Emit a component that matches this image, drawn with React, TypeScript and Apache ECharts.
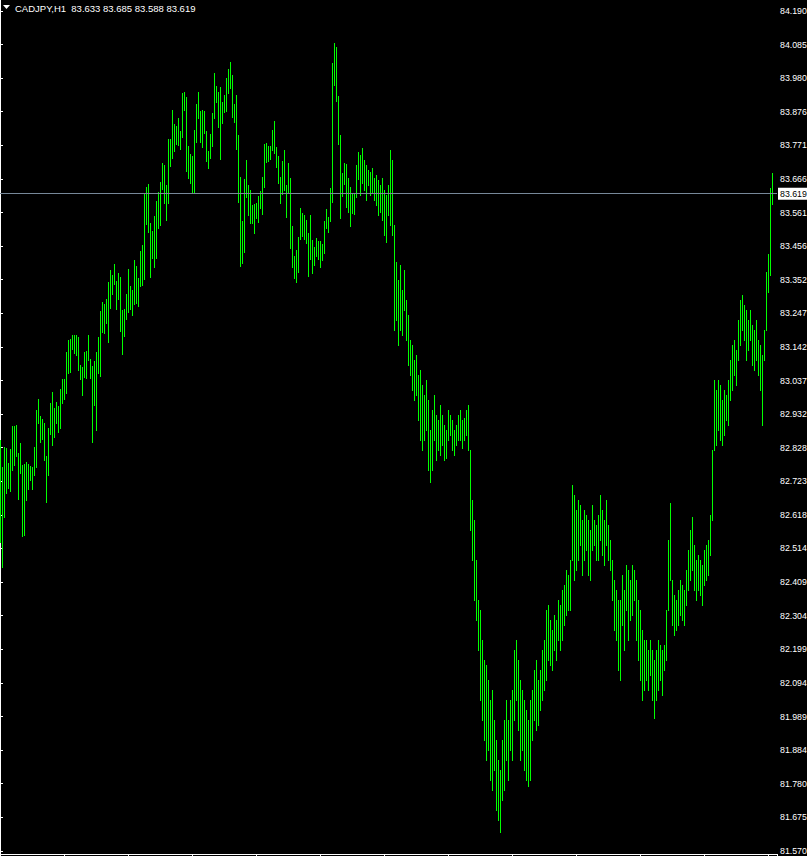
import React, { useEffect, useRef } from 'react';
import * as echarts from 'echarts';

const symbolName = 'CADJPY,H1';
const lastOHLC = [83.633, 83.685, 83.588, 83.619];

const priceTicks = [
  84.19, 84.085, 83.98, 83.876, 83.771, 83.666, 83.561, 83.456, 83.352, 83.247,
  83.142, 83.037, 82.932, 82.828, 82.723, 82.618, 82.514, 82.409, 82.304, 82.199,
  82.094, 81.989, 81.884, 81.78, 81.675, 81.57,
];

const highs = [
  82.851, 82.767, 82.829, 82.826, 82.780, 82.823, 82.895, 82.895, 82.898, 82.811, 82.842, 82.773,
  82.776, 82.783, 82.776, 82.770, 82.767, 82.829, 82.945, 82.979, 82.926, 82.917, 82.904, 82.801,
  82.889, 82.967, 83.001, 82.951, 82.970, 82.957, 83.010, 83.041, 83.041, 83.126, 83.163, 83.166,
  83.179, 83.179, 83.179, 83.172, 83.085, 83.079, 83.126, 83.129, 83.179, 83.104, 83.082, 83.098,
  83.126, 83.172, 83.254, 83.282, 83.276, 83.291, 83.344, 83.382, 83.366, 83.400, 83.347, 83.372,
  83.360, 83.257, 83.260, 83.307, 83.385, 83.332, 83.319, 83.413, 83.394, 83.357, 83.441, 83.460,
  83.619, 83.641, 83.650, 83.528, 83.503, 83.550, 83.597, 83.625, 83.656, 83.715, 83.709, 83.647,
  83.790, 83.790, 83.881, 83.837, 83.831, 83.856, 83.815, 83.934, 83.937, 83.921, 83.769, 83.744,
  83.737, 83.818, 83.900, 83.937, 83.878, 83.881, 83.878, 83.815, 83.753, 83.806, 83.871, 83.996,
  83.956, 83.937, 83.953, 83.906, 83.928, 83.981, 84.009, 84.031, 83.990, 83.900, 83.928, 83.803,
  83.672, 83.535, 83.666, 83.725, 83.647, 83.631, 83.584, 83.588, 83.591, 83.612, 83.628, 83.672,
  83.775, 83.778, 83.769, 83.769, 83.818, 83.847, 83.765, 83.737, 83.672, 83.722, 83.756, 83.647,
  83.715, 83.669, 83.519, 83.425, 83.444, 83.485, 83.575, 83.559, 83.553, 83.538, 83.497, 83.553,
  83.475, 83.453, 83.481, 83.472, 83.472, 83.463, 83.534, 83.572, 83.547, 83.637, 84.027, 84.090,
  84.077, 83.924, 83.803, 83.684, 83.715, 83.712, 83.669, 83.641, 83.619, 83.622, 83.709, 83.750,
  83.740, 83.762, 83.725, 83.709, 83.694, 83.687, 83.700, 83.669, 83.678, 83.662, 83.647, 83.669,
  83.631, 83.616, 83.647, 83.756, 83.725, 83.522, 83.407, 83.350, 83.397, 83.319, 83.382, 83.288,
  83.241, 83.163, 83.148, 83.101, 83.116, 83.054, 83.070, 83.023, 82.992, 83.038, 82.976, 82.882,
  82.945, 82.992, 82.929, 82.914, 82.960, 82.929, 82.898, 82.882, 82.945, 82.929, 82.914, 82.882,
  82.898, 82.929, 82.945, 82.914, 82.920, 82.945, 82.960, 82.820, 82.664, 82.602, 82.477, 82.352,
  82.321, 82.227, 82.165, 82.149, 82.102, 82.040, 82.071, 81.978, 81.915, 81.853, 81.822, 81.915,
  81.978, 82.040, 81.978, 82.040, 82.071, 82.196, 82.227, 82.165, 82.102, 82.071, 82.040, 82.009,
  81.978, 82.040, 82.071, 82.134, 82.165, 82.102, 82.134, 82.196, 82.227, 82.321, 82.336, 82.290,
  82.258, 82.305, 82.290, 82.352, 82.336, 82.383, 82.399, 82.446, 82.430, 82.477, 82.711, 82.680,
  82.633, 82.664, 82.648, 82.602, 82.633, 82.617, 82.602, 82.570, 82.648, 82.602, 82.586, 82.617,
  82.680, 82.633, 82.602, 82.664, 82.586, 82.539, 82.477, 82.414, 82.383, 82.352, 82.352, 82.430,
  82.383, 82.461, 82.446, 82.414, 82.461, 82.446, 82.414, 82.352, 82.321, 82.258, 82.227, 82.227,
  82.196, 82.227, 82.196, 82.165, 82.196, 82.227, 82.212, 82.196, 82.212, 82.321, 82.539, 82.655,
  82.414, 82.368, 82.352, 82.383, 82.414, 82.399, 82.383, 82.446, 82.508, 82.570, 82.611, 82.524,
  82.477, 82.492, 82.477, 82.461, 82.508, 82.524, 82.539, 82.617, 82.820, 83.038, 83.007, 83.038,
  83.023, 82.976, 83.007, 82.992, 83.038, 83.101, 83.148, 83.163, 83.132, 83.226, 83.288, 83.304,
  83.272, 83.257, 83.226, 83.257, 83.210, 83.194, 83.226, 83.163, 83.148, 83.116, 83.194, 83.375,
  83.432, 83.637, 83.685,
];

const lows = [
  82.533, 82.455, 82.611, 82.686, 82.702, 82.692, 82.758, 82.773, 82.801, 82.667, 82.748, 82.552,
  82.555, 82.664, 82.698, 82.726, 82.698, 82.742, 82.767, 82.904, 82.845, 82.854, 82.789, 82.658,
  82.742, 82.870, 82.836, 82.860, 82.904, 82.876, 82.889, 82.967, 82.979, 82.998, 83.060, 83.063,
  83.135, 83.123, 83.117, 83.070, 83.042, 82.992, 83.048, 83.045, 83.101, 83.045, 82.845, 82.960,
  82.882, 83.060, 83.051, 83.188, 83.185, 83.216, 83.157, 83.263, 83.307, 83.338, 83.260, 83.291,
  83.191, 83.120, 83.176, 83.229, 83.251, 83.260, 83.241, 83.276, 83.279, 83.269, 83.332, 83.335,
  83.354, 83.525, 83.500, 83.360, 83.419, 83.391, 83.419, 83.513, 83.522, 83.634, 83.591, 83.538,
  83.591, 83.706, 83.731, 83.753, 83.775, 83.772, 83.759, 83.797, 83.881, 83.691, 83.669, 83.653,
  83.625, 83.625, 83.781, 83.856, 83.781, 83.765, 83.809, 83.722, 83.700, 83.731, 83.769, 83.856,
  83.906, 83.828, 83.728, 83.840, 83.875, 83.878, 83.934, 83.949, 83.859, 83.843, 83.759, 83.594,
  83.394, 83.403, 83.438, 83.609, 83.553, 83.528, 83.528, 83.497, 83.544, 83.531, 83.575, 83.556,
  83.641, 83.719, 83.722, 83.728, 83.756, 83.747, 83.703, 83.653, 83.591, 83.619, 83.631, 83.547,
  83.625, 83.450, 83.391, 83.357, 83.344, 83.375, 83.478, 83.488, 83.478, 83.466, 83.363, 83.416,
  83.372, 83.397, 83.425, 83.416, 83.391, 83.413, 83.435, 83.513, 83.500, 83.534, 83.594, 83.959,
  83.909, 83.775, 83.544, 83.612, 83.650, 83.578, 83.563, 83.519, 83.559, 83.556, 83.609, 83.666,
  83.616, 83.653, 83.631, 83.600, 83.647, 83.616, 83.625, 83.600, 83.584, 83.553, 83.563, 83.538,
  83.491, 83.469, 83.553, 83.522, 83.491, 83.194, 83.226, 83.148, 83.194, 83.179, 83.257, 83.163,
  83.085, 83.054, 83.007, 82.976, 82.992, 82.914, 82.851, 82.820, 82.851, 82.882, 82.758, 82.720,
  82.758, 82.851, 82.789, 82.820, 82.804, 82.836, 82.789, 82.795, 82.851, 82.867, 82.820, 82.804,
  82.836, 82.851, 82.851, 82.826, 82.851, 82.867, 82.820, 82.570, 82.477, 82.352, 82.290, 82.196,
  82.040, 81.978, 81.915, 81.853, 81.884, 81.790, 81.759, 81.822, 81.697, 81.666, 81.628, 81.728,
  81.759, 81.853, 81.790, 81.884, 81.853, 81.978, 82.040, 81.946, 81.853, 81.884, 81.822, 81.790,
  81.772, 81.790, 81.915, 81.978, 81.946, 81.962, 82.009, 82.040, 82.071, 82.102, 82.165, 82.149,
  82.134, 82.196, 82.165, 82.227, 82.196, 82.227, 82.274, 82.305, 82.321, 82.321, 82.477, 82.414,
  82.446, 82.477, 82.524, 82.430, 82.477, 82.508, 82.430, 82.414, 82.508, 82.524, 82.477, 82.477,
  82.539, 82.492, 82.461, 82.524, 82.477, 82.446, 82.352, 82.258, 82.227, 82.134, 82.102, 82.274,
  82.196, 82.321, 82.227, 82.290, 82.305, 82.352, 82.227, 82.165, 82.102, 82.040, 82.071, 82.102,
  82.071, 82.118, 82.040, 81.984, 82.040, 82.071, 82.102, 82.056, 82.134, 82.165, 82.321, 82.414,
  82.274, 82.243, 82.258, 82.274, 82.305, 82.290, 82.274, 82.336, 82.383, 82.414, 82.446, 82.383,
  82.352, 82.383, 82.368, 82.336, 82.399, 82.414, 82.430, 82.492, 82.602, 82.820, 82.836, 82.882,
  82.851, 82.836, 82.867, 82.914, 82.898, 82.976, 83.007, 83.054, 83.023, 83.101, 83.148, 83.194,
  83.163, 83.101, 83.132, 83.163, 83.085, 83.070, 83.101, 83.054, 83.007, 82.898, 83.101, 83.194,
  83.313, 83.366, 83.588,
];

const FONT = 'Liberation Sans';

export default function App() {
  const ref = useRef<HTMLDivElement>(null);

  useEffect(() => {
    if (!ref.current) return;
    const chart = echarts.init(ref.current, null, { renderer: 'svg' });
    const data = highs.map((h, i) => [i, h, lows[i]]);
    const lastClose = lastOHLC[3];

    const renderItem = (params: any, api: any) => {
      const i = api.value(0);
      const p1 = api.coord([i, api.value(1)]);
      const p2 = api.coord([i, api.value(2)]);
      const x = Math.round(p1[0]);
      const y1 = Math.round(p1[1]);
      const y2 = Math.round(p2[1]);
      return {
        type: 'rect',
        shape: { x, y: y1, width: 1, height: Math.max(1, y2 - y1 + 1) },
        style: { fill: '#00ff00', stroke: null, lineWidth: 0 },
      };
    };

    chart.setOption({
      animation: false,
      backgroundColor: '#000000',
      title: {
        text: `${symbolName}  ${lastOHLC.map((v) => v.toFixed(3)).join(' ')}`,
        left: 15,
        top: 3,
        padding: 0,
        textStyle: { color: '#ffffff', fontSize: 9.5, fontWeight: 'normal', fontFamily: FONT },
      },
      graphic: [
        {
          type: 'polygon',
          shape: { points: [[3, 5], [10, 5], [6.5, 9]] },
          style: { fill: '#ffffff' },
          silent: true,
        },
      ],
      grid: { left: 0, right: 30, top: 0, bottom: 2, outerBoundsMode: 'none', containLabel: false },
      xAxis: {
        type: 'value',
        min: 0,
        max: 388.5,
        interval: 32,
        axisLine: { show: true, lineStyle: { color: '#ffffff', width: 1 } },
        axisTick: { show: true, length: 3, lineStyle: { color: '#ffffff' } },
        axisLabel: { show: false },
        splitLine: { show: false },
      },
      yAxis: {
        type: 'value',
        position: 'right',
        min: 81.5606,
        max: 84.2243,
        axisLine: { show: true, lineStyle: { color: '#ffffff', width: 1 } },
        axisTick: { show: true, length: 3, customValues: priceTicks, lineStyle: { color: '#ffffff' } },
        axisLabel: {
          show: true,
          customValues: priceTicks,
          formatter: (v: number) => v.toFixed(3),
          color: '#ffffff',
          fontSize: 8.8,
          fontFamily: FONT,
          margin: 3,
        },
        splitLine: { show: false },
      },
      series: [
        {
          type: 'custom',
          renderItem,
          data,
          encode: { x: 0, y: [1, 2] },
          clip: true,
          silent: true,
        },
        {
          type: 'line',
          data: [[highs.length - 1, lastClose]],
          symbol: 'none',
          showSymbol: false,
          lineStyle: { opacity: 0 },
          silent: true,
          markLine: {
            silent: true,
            symbol: ['none', 'none'],
            data: [{ yAxis: lastClose }],
            lineStyle: { color: '#778899', width: 1, type: 'solid' },
            label: {
              show: true,
              position: 'end',
              formatter: lastClose.toFixed(3),
              color: '#000000',
              backgroundColor: '#ffffff',
              fontSize: 8.8,
              fontFamily: FONT,
              padding: [2, 1, 1, 2],
              distance: 1,
            },
          },
        },
      ],
    });
    return () => chart.dispose();
  }, []);

  return (
    <div
      ref={ref}
      style={{ position: 'fixed', left: 0, top: 0, width: 807, height: 856 }}
    />
  );
}
